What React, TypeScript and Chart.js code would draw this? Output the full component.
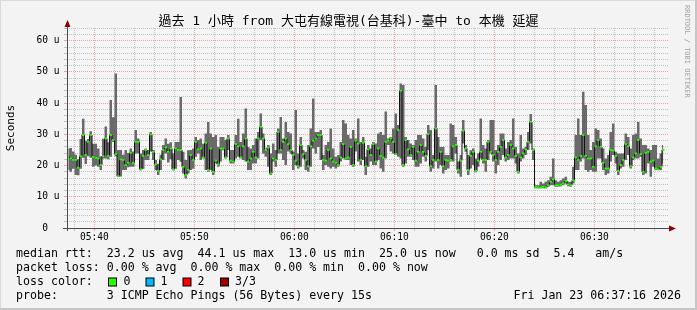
import React, { useEffect, useRef } from 'react';
import { Chart, registerables } from 'chart.js';

Chart.register(...registerables);

const TITLE_TEXT = '過去 1 小時 from 大屯有線電視(台基科)-臺中 to 本機 延遲';
const Y_AXIS_TITLE = 'Seconds';
const WATERMARK = 'RRDTOOL / TOBI OETIKER';

// time axis in minutes after 05:00
const X_START = 37 + 16 / 60; // 05:37:16
const X_END = X_START + 60.1;
const SAMPLE_STEP = 0.25; // one sample every 15 s

const xGridMinutes = [38, 40, 42, 44, 46, 48, 50, 52, 54, 56, 58, 60, 62, 64, 66, 68, 70, 72, 74, 76, 78, 80, 82, 84, 86, 88, 90, 92, 94, 96];
const xTickMinutes = [40, 50, 60, 70, 80, 90];
const xTickLabels = ['05:40', '05:50', '06:00', '06:10', '06:20', '06:30'];

const yGridValues = [0, 2, 4, 6, 8, 10, 12, 14, 16, 18, 20, 22, 24, 26, 28, 30, 32, 34, 36, 38, 40, 42, 44, 46, 48, 50, 52, 54, 56, 58, 60, 62, 64];
const yTickValues = [0, 10, 20, 30, 40, 50, 60];
const yTickLabels = ['0  ', '10 u', '20 u', '30 u', '40 u', '50 u', '60 u'];
const Y_MAX = 64.1;

// median rtt (microseconds)
const medianRtt = [
  23.1, 22.3, 21.8, 21.8, 19.3, 23.0, 29.8, 23.4, 27.6, 29.8, 22.8, 22.5, 22.3, 20.2, 23.0, 28.7, 23.1, 29.8, 28.2, 23.7,
  16.6, 22.0, 21.8, 20.2, 20.9, 24.1, 20.9, 27.6, 27.6, 18.8, 23.1, 25.0, 23.4, 30.0, 24.4, 20.4, 18.3, 22.0, 25.0, 25.8,
  24.4, 25.5, 18.8, 25.5, 25.0, 25.0, 19.6, 17.0, 18.6, 23.4, 21.8, 27.6, 25.2, 25.5, 22.6, 27.3, 18.6, 25.5, 18.0, 21.6,
  20.4, 25.5, 25.5, 22.6, 28.7, 21.6, 21.3, 26.9, 26.2, 22.6, 26.2, 28.7, 21.3, 22.3, 24.4, 22.6, 28.7, 32.4, 28.7, 25.0,
  25.8, 17.5, 22.3, 21.8, 30.8, 25.0, 27.6, 28.7, 26.9, 25.0, 23.4, 21.6, 19.8, 26.6, 23.7, 21.8, 19.8, 26.2, 28.0, 28.7,
  29.8, 29.8, 21.8, 21.6, 25.0, 22.3, 21.3, 20.9, 20.2, 22.6, 26.9, 22.3, 22.6, 26.0, 20.2, 28.0, 27.1, 21.8, 27.3, 19.8,
  25.2, 23.4, 26.9, 21.3, 25.5, 23.1, 22.6, 27.6, 28.0, 28.7, 27.6, 23.7, 31.4, 44.0, 20.2, 28.2, 25.2, 23.4, 26.0, 21.6,
  24.4, 26.6, 24.4, 23.1, 30.1, 19.8, 21.8, 31.9, 21.8, 24.4, 19.8, 21.8, 21.6, 21.8, 26.2, 26.6, 18.6, 21.6, 31.2, 25.5,
  18.6, 23.1, 24.4, 18.3, 21.6, 24.4, 21.8, 21.8, 27.6, 24.4, 23.4, 21.8, 24.4, 26.0, 28.2, 22.6, 23.4, 26.6, 25.5, 23.1,
  18.0, 22.6, 23.9, 25.2, 27.6, 34.0, 25.0, 13.2, 13.0, 13.0, 13.2, 13.0, 13.7, 14.8, 15.6, 13.7, 13.7, 13.9, 14.3, 15.1,
  13.9, 13.7, 15.3, 22.6, 21.8, 23.1, 29.8, 23.1, 22.3, 22.3, 19.6, 26.2, 28.2, 26.0, 20.9, 19.1, 19.1, 25.0, 24.8, 23.1,
  18.3, 20.2, 21.8, 26.9, 26.2, 19.8, 22.6, 23.9, 28.2, 23.7, 18.0, 24.1, 24.4, 21.3, 21.6, 19.1, 18.8, 19.6, 25.0,
];

// lowest ping of each sample (microseconds)
const minRtt = [
  18.6, 18.0, 19.0, 17.0, 16.9, 19.0, 22.5, 20.5, 23.0, 22.5, 19.6, 20.0, 19.6, 18.6, 22.3, 22.3, 22.0, 22.8, 27.6, 23.0,
  16.4, 16.5, 18.6, 18.6, 19.5, 19.6, 19.6, 23.9, 23.9, 18.5, 19.0, 21.8, 21.8, 24.5, 21.8, 18.6, 17.0, 18.6, 21.8, 23.9,
  21.0, 22.0, 18.5, 19.0, 21.8, 21.2, 17.5, 15.9, 17.5, 18.6, 19.0, 22.8, 23.9, 21.8, 22.3, 18.6, 18.0, 18.6, 17.0, 20.7,
  19.6, 21.3, 24.9, 22.3, 25.0, 20.7, 20.7, 22.3, 22.8, 22.3, 21.8, 21.3, 18.6, 18.6, 20.7, 20.7, 22.3, 28.2, 23.9, 22.8,
  19.6, 17.0, 21.3, 19.6, 23.9, 23.9, 21.8, 20.2, 24.5, 23.9, 18.6, 20.2, 19.1, 19.6, 22.3, 18.6, 18.0, 19.6, 25.5, 23.9,
  26.0, 21.8, 18.6, 20.2, 19.6, 19.1, 19.6, 19.1, 19.6, 21.3, 22.3, 21.8, 21.8, 20.2, 19.6, 24.5, 21.3, 20.2, 21.8, 17.0,
  19.6, 21.3, 20.2, 20.2, 21.8, 19.1, 18.0, 22.3, 26.6, 24.5, 23.9, 23.4, 22.8, 22.3, 19.6, 20.7, 22.8, 22.8, 21.8, 19.6,
  19.6, 20.7, 22.8, 21.3, 25.0, 18.0, 19.1, 21.3, 19.1, 20.2, 17.5, 18.6, 19.1, 21.3, 21.3, 23.9, 17.5, 16.4, 27.1, 24.4,
  17.0, 19.1, 20.2, 17.9, 19.6, 22.3, 20.7, 18.0, 21.8, 23.9, 21.3, 17.5, 20.2, 21.8, 23.4, 21.3, 21.8, 22.3, 22.3, 20.7,
  17.5, 21.3, 22.3, 23.4, 25.0, 27.1, 21.8, 12.7, 12.7, 12.7, 12.7, 12.7, 13.2, 13.7, 13.7, 13.2, 13.2, 13.4, 13.7, 14.3,
  13.4, 13.2, 14.3, 18.6, 18.6, 21.3, 22.3, 18.6, 18.0, 18.6, 18.0, 18.0, 22.3, 22.3, 18.6, 17.0, 17.5, 21.3, 23.4, 20.7,
  17.0, 19.1, 19.6, 21.8, 23.4, 19.1, 21.8, 22.3, 22.3, 22.8, 17.0, 17.5, 20.7, 16.4, 19.6, 18.6, 18.6, 18.6, 20.7,
];

// highest ping of each sample (microseconds)
const maxRtt = [
  25.5, 25.6, 24.5, 23.5, 22.0, 28.5, 35.0, 28.0, 28.5, 31.0, 27.0, 27.0, 25.5, 23.0, 28.6, 32.5, 27.5, 41.0, 35.5, 49.5,
  25.0, 25.0, 23.5, 25.0, 24.0, 25.5, 24.5, 31.4, 28.7, 23.9, 25.0, 25.5, 25.0, 30.8, 25.0, 21.8, 20.6, 23.5, 26.6, 28.7,
  27.0, 27.5, 23.9, 27.6, 27.6, 42.0, 24.4, 21.8, 24.9, 25.0, 25.5, 29.2, 28.2, 28.7, 27.0, 30.3, 34.0, 30.3, 29.2, 29.8,
  26.0, 29.2, 29.2, 28.2, 29.8, 25.0, 25.0, 29.8, 35.0, 27.6, 30.3, 38.3, 26.0, 25.5, 26.6, 28.7, 30.8, 36.7, 30.3, 25.5,
  26.6, 23.9, 27.1, 25.0, 31.9, 35.6, 28.7, 34.0, 30.8, 30.3, 24.5, 37.8, 23.9, 29.2, 25.0, 24.4, 26.6, 31.9, 41.5, 30.8,
  30.8, 31.4, 23.4, 26.6, 27.6, 31.9, 25.5, 22.8, 23.4, 27.6, 34.6, 33.5, 29.8, 28.7, 31.4, 28.7, 35.1, 27.6, 29.2, 22.8,
  26.6, 25.5, 27.6, 27.1, 30.3, 30.8, 29.8, 37.3, 28.7, 29.2, 31.9, 36.7, 33.0, 46.3, 45.8, 29.2, 28.2, 27.1, 26.6, 28.2,
  29.8, 29.8, 28.7, 26.0, 33.0, 31.4, 23.4, 45.8, 29.2, 26.0, 26.0, 23.4, 23.4, 33.5, 33.0, 29.2, 21.3, 23.4, 34.6, 26.6,
  23.4, 24.9, 25.5, 22.3, 23.9, 35.1, 26.6, 25.5, 28.2, 34.6, 34.6, 25.0, 26.6, 30.3, 30.3, 25.5, 27.6, 28.2, 35.1, 26.0,
  23.9, 29.8, 25.5, 26.0, 30.8, 36.5, 25.5, 13.7, 13.7, 14.8, 14.3, 14.8, 15.3, 16.4, 22.3, 15.3, 14.8, 15.3, 15.9, 16.4,
  14.8, 14.8, 19.6, 29.8, 35.1, 29.8, 43.7, 39.4, 29.8, 25.0, 27.6, 31.9, 31.4, 28.7, 25.5, 22.3, 23.4, 30.8, 33.5, 24.4,
  23.9, 23.9, 23.9, 30.3, 29.2, 25.5, 29.8, 30.3, 34.0, 28.7, 26.6, 26.6, 25.5, 25.0, 26.6, 26.6, 22.3, 23.9, 26.6,
];

const legendRows = [
  'median rtt:  23.2 us avg  44.1 us max  13.0 us min  25.0 us now   0.0 ms sd  5.4   am/s',
  'packet loss: 0.00 % avg  0.00 % max  0.00 % min  0.00 % now',
  'loss color:',
  'probe:       3 ICMP Echo Pings (56 Bytes) every 15s',
];
const lossLabels = ['0', '1', '2', '3/3'];
const lossColors = ['#26ff00', '#00b8ff', '#ff0000', '#a10000'];
const TIMESTAMP = 'Fri Jan 23 06:37:16 2026';

const MONO = "'DejaVu Sans Mono', 'Noto Sans CJK TC', monospace";
const BG = '#f3f3f3';
const PLOT_BG = '#f5f5f5';
const MINOR_GRID = '#c2c2c2';
const MAJOR_GRID = '#eca2a2';
const SMOKE = '#6a6a6a';
const AXIS = '#4a4a4a';
const ARROW = '#8c0000';
const CLEAR = 'rgba(0,0,0,0)';

const chromePlugin = {
  id: 'rrdChrome',
  beforeDraw(chart: any) {
    const { ctx, chartArea: a } = chart;
    ctx.save();
    ctx.fillStyle = BG;
    ctx.fillRect(0, 0, chart.width, chart.height);
    ctx.fillStyle = PLOT_BG;
    ctx.fillRect(a.left, a.top, a.right - a.left, a.bottom - a.top);
    // frame
    ctx.fillStyle = '#d9d9d9';
    ctx.fillRect(0, 0, chart.width, 1);
    ctx.fillRect(0, 0, 1, chart.height);
    ctx.fillStyle = '#c6c6c6';
    ctx.fillRect(chart.width - 2, 0, 2, chart.height);
    ctx.fillRect(0, chart.height - 2, chart.width, 2);
    ctx.restore();
  },
  afterDraw(chart: any) {
    const { ctx, chartArea: a } = chart;
    ctx.save();
    // axes
    ctx.fillStyle = AXIS;
    ctx.fillRect(a.left - 4, a.bottom, a.right - a.left + 6, 1);
    ctx.fillRect(a.left, a.top - 4, 1, a.bottom - a.top + 7);
    // arrows
    ctx.fillStyle = ARROW;
    const ax = a.left + 0.5;
    ctx.beginPath();
    ctx.moveTo(ax - 3, a.top - 1);
    ctx.lineTo(ax + 3, a.top - 1);
    ctx.lineTo(ax, a.top - 8);
    ctx.closePath();
    ctx.fill();
    const ay = a.bottom + 0.5;
    ctx.beginPath();
    ctx.moveTo(a.right + 1, ay - 3);
    ctx.lineTo(a.right + 1, ay + 3);
    ctx.lineTo(a.right + 8, ay);
    ctx.closePath();
    ctx.fill();

    // title
    ctx.fillStyle = '#000';
    ctx.textBaseline = 'middle';
    ctx.textAlign = 'center';
    ctx.font = `13px ${MONO}`;
    ctx.fillText(TITLE_TEXT, chart.width / 2, 22);

    // y axis title
    ctx.save();
    ctx.translate(11, 128);
    ctx.rotate(-Math.PI / 2);
    ctx.font = `11px ${MONO}`;
    ctx.fillText(Y_AXIS_TITLE, 0, 0);
    ctx.restore();

    // watermark
    ctx.save();
    ctx.translate(687, 5);
    ctx.rotate(Math.PI / 2);
    ctx.textAlign = 'left';
    ctx.fillStyle = '#a3a3a3';
    ctx.font = `7px ${MONO}`;
    ctx.fillText(WATERMARK, 0, 0);
    ctx.restore();

    // legend
    ctx.textAlign = 'left';
    ctx.fillStyle = '#000';
    ctx.font = `11.6px ${MONO}`;
    const rowY = [254, 268, 282, 296];
    legendRows.forEach((t, i) => ctx.fillText(t, 16, rowY[i]));
    const boxX = [108, 145.5, 182.5, 220];
    const labX = [123.5, 160.5, 197.5, 235];
    lossColors.forEach((c, i) => {
      ctx.fillStyle = '#000';
      ctx.fillRect(boxX[i], rowY[2] - 4.5, 9, 9);
      ctx.fillStyle = c;
      ctx.fillRect(boxX[i] + 1, rowY[2] - 3.5, 7, 7);
      ctx.fillStyle = '#000';
      ctx.fillText(lossLabels[i], labX[i], rowY[2]);
    });
    ctx.textAlign = 'right';
    ctx.fillText(TIMESTAMP, 681, rowY[3]);
    ctx.restore();
  },
};

export default function App() {
  const ref = useRef<HTMLCanvasElement | null>(null);

  useEffect(() => {
    document.body.style.margin = '0';
    const canvas = ref.current;
    if (!canvas) return;
    const xs = medianRtt.map((_, i) => X_START + (i + 0.5) * SAMPLE_STEP);
    const chart = new Chart(canvas, {
      type: 'line',
      data: {
        datasets: [
          {
            label: 'median rtt',
            data: medianRtt.map((v, i) => ({ x: xs[i], y: v })),
            borderColor: '#111111',
            borderWidth: 1,
            stepped: 'middle',
            pointStyle: 'line',
            pointRadius: 1.25,
            pointBorderColor: '#26ff00',
            pointBorderWidth: 1.8,
            pointHoverRadius: 0,
            fill: false,
            order: 0,
          } as any,
          {
            label: 'max ping',
            data: maxRtt.map((v, i) => ({ x: xs[i], y: v })),
            borderColor: CLEAR,
            borderWidth: 0,
            backgroundColor: SMOKE,
            stepped: 'middle',
            pointRadius: 0,
            fill: '+1',
            order: 1,
          } as any,
          {
            label: 'min ping',
            data: minRtt.map((v, i) => ({ x: xs[i], y: v })),
            borderColor: CLEAR,
            borderWidth: 0,
            stepped: 'middle',
            pointRadius: 0,
            fill: false,
            order: 2,
          } as any,
        ],
      },
      options: {
        responsive: false,
        animation: false,
        events: [],
        layout: { padding: { left: 0, top: 28, right: 29, bottom: 62 } },
        plugins: { legend: { display: false }, title: { display: false }, tooltip: { enabled: false } },
        scales: {
          x: {
            type: 'linear',
            min: X_START,
            max: X_END,
            offset: false,
            afterBuildTicks: (s: any) => {
              s.ticks = xGridMinutes.map((v) => ({ value: v }));
            },
            afterFit: (s: any) => {
              s.height = 20;
            },
            ticks: {
              autoSkip: false,
              maxRotation: 0,
              padding: 1,
              color: '#000',
              font: { family: MONO, size: 9.6 },
              callback: (v: any) => {
                const k = xTickMinutes.indexOf(Math.round(Number(v)));
                return k >= 0 ? xTickLabels[k] : '';
              },
            },
            grid: {
              color: (c: any) => (c.tick && Math.round(c.tick.value) % 10 === 0 ? MAJOR_GRID : MINOR_GRID),
              lineWidth: 1,
              drawTicks: true,
              tickLength: 3,
            },
            border: { display: false, dash: [1, 1] },
          },
          y: {
            type: 'linear',
            min: 0,
            max: Y_MAX,
            afterBuildTicks: (s: any) => {
              s.ticks = yGridValues.map((v) => ({ value: v }));
            },
            afterFit: (s: any) => {
              s.width = 67;
            },
            ticks: {
              autoSkip: false,
              padding: 4.5,
              color: '#000',
              font: { family: MONO, size: 9.6 },
              callback: (v: any) => {
                const k = yTickValues.indexOf(Math.round(Number(v)));
                return k >= 0 ? yTickLabels[k] : '';
              },
            },
            grid: {
              color: (c: any) => (c.tick && Math.round(c.tick.value) % 10 === 0 ? MAJOR_GRID : MINOR_GRID),
              lineWidth: 1,
              drawTicks: true,
              tickLength: 3,
            },
            border: { display: false, dash: [1, 1] },
          },
        },
      },
      plugins: [chromePlugin],
    });
    return () => chart.destroy();
  }, []);

  return (
    <div style={{ width: 697, height: 310 }}>
      <canvas ref={ref} width={697} height={310} style={{ display: 'block', width: 697, height: 310 }} />
    </div>
  );
}
